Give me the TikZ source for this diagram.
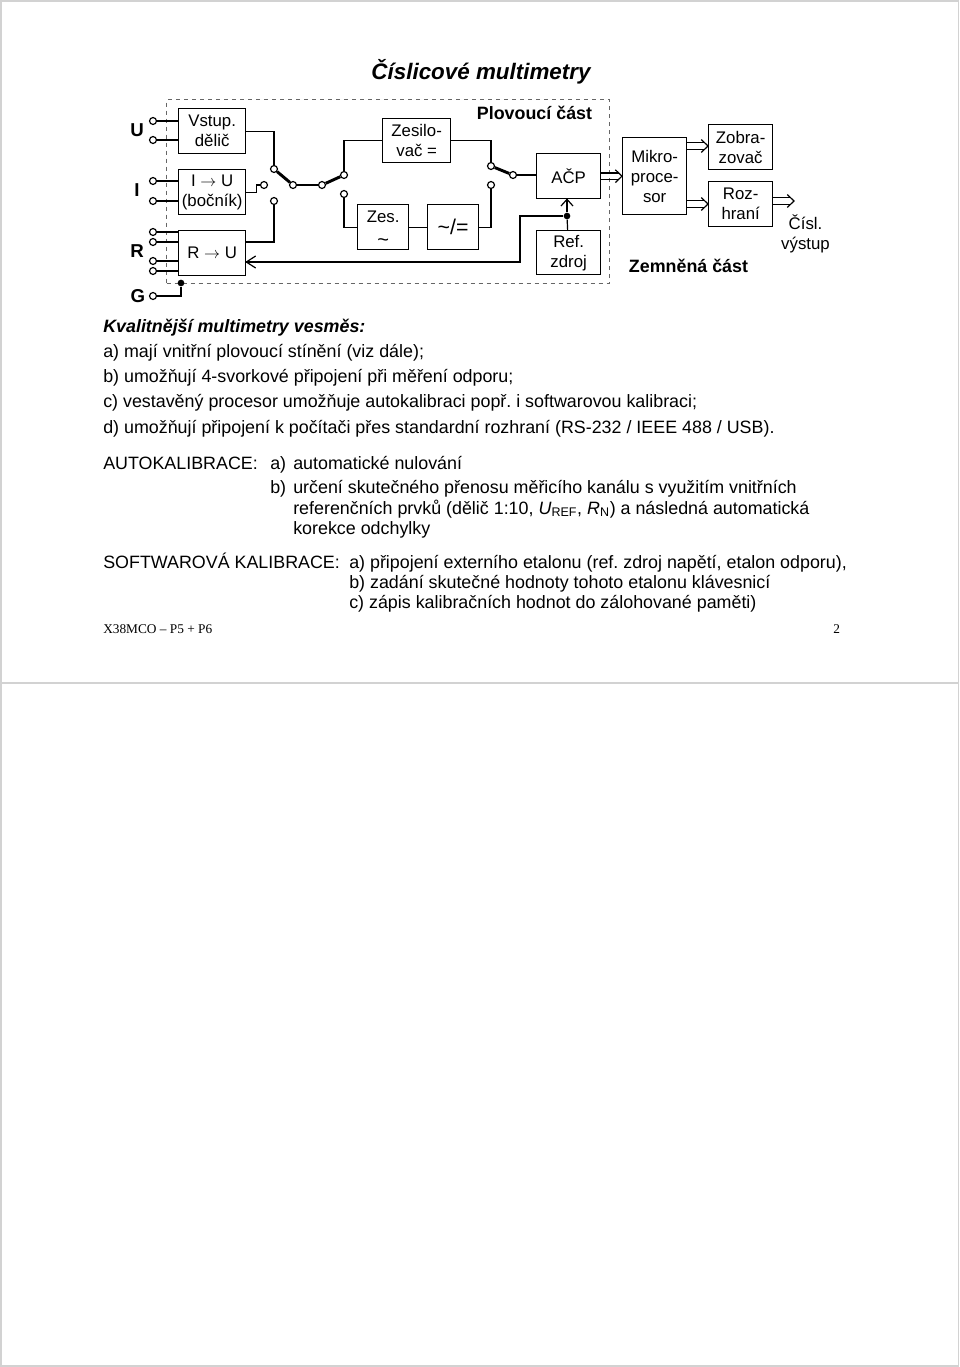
\documentclass[tikz,border=0pt]{standalone}
\usepackage{fontspec}
\setmainfont{Liberation Sans}
\newfontfamily\footfont{Liberation Serif}

\newcommand{\boxfont}{\fontsize{12.6}{15}\selectfont}
\newcommand{\bodyfont}{\fontsize{13.4}{15}\selectfont}
\newcommand{\busline}[2]{%
  \draw[wire] ([yshift=2.4pt]#1) -- ([shift={(-2.6pt,2.4pt)}]#2);
  \draw[wire] ([yshift=-2.4pt]#1) -- ([shift={(-2.6pt,-2.4pt)}]#2);
  \draw[wire] ([shift={(-5pt,4.8pt)}]#2) -- (#2) -- ([shift={(-5pt,-4.8pt)}]#2);}
\frenchspacing

\tikzset{
  block/.style={draw,line width=1pt,rectangle,inner sep=0pt,align=center,font=\boxfont,anchor=north west},
  term/.style={draw,line width=0.9pt,circle,fill=white,inner sep=0pt,minimum size=5.2pt},
  wire/.style={line width=0.9pt},
  arm/.style={line width=2.2pt},
  barb/.style={line width=0.9pt},
  dot/.style={circle,fill=black,inner sep=0pt,minimum size=5pt},
  txt/.style={anchor=base west,inner sep=0pt,font=\bodyfont},
  lbl/.style={inner sep=0pt,align=center,font=\boxfont},
  head/.style={inner sep=0pt,font=\fontsize{13.4}{15}\selectfont\bfseries},
  pin/.style={inner sep=0pt,font=\fontsize{14}{15}\selectfont\bfseries},
  foottxt/.style={anchor=base west,inner sep=0pt,font=\footfont\fontsize{10}{11}\selectfont}
}

\begin{document}
\begin{tikzpicture}[x=0.75pt,y=-0.75pt]
  \useasboundingbox (0,0) rectangle (960,1367);

  % page edges
  \coordinate (edgeA) at (1,1);
  \coordinate (edgeB) at (958.5,1366);
  \coordinate (edgeL) at (0,683);
  \coordinate (edgeR) at (958.5,683);
  \draw[gray!35,line width=0.9pt] (edgeA) rectangle (edgeB);
  \draw[gray!35,line width=0.9pt] (edgeL) -- (edgeR);

  \node (title) at (481,72) [font=\fontsize{16.8}{18}\selectfont\bfseries\itshape,inner sep=0pt] {Číslicové multimetry};

  % floating part
  \node (plov) [draw,gray!80!black,dashed,line width=0.8pt,inner sep=0pt,anchor=north west,
    minimum width=442.5pt*0.75,minimum height=184pt*0.75] at (166,99) {};

  % blocks
  \node (vstup) [block,minimum width=50.25pt,minimum height=33.75pt] at (178,108) {Vstup.\\dělič};
  \node (bocnik) [block,minimum width=50.25pt,minimum height=33.75pt] at (178,169) {I $\rightarrow$ U\\(bočník)};
  \node (rtou) [block,minimum width=50.25pt,minimum height=33.75pt] at (178,230) {R $\rightarrow$ U};
  \node (zesil) [block,minimum width=51pt,minimum height=33pt] at (382,118) {Zesilo-\\vač =};
  \node (zesac) [block,minimum width=38.25pt,minimum height=33.75pt] at (357,204) {Zes.\\\raisebox{-3pt}[0pt][0pt]{\fontsize{15}{15}\selectfont\textasciitilde}};
  \node (acdc) [block,minimum width=38.25pt,minimum height=33.75pt,font=\fontsize{16}{17}\selectfont] at (427,204) {\textasciitilde/=};
  \node (acp) [block,minimum width=48pt,minimum height=33.75pt] at (536,153) {AČP};
  \node (ref) [block,minimum width=48pt,minimum height=33pt] at (536,230) {Ref.\\zdroj};
  \node (mikro) [block,minimum width=48pt,minimum height=57.75pt] at (622,137) {Mikro-\\proce-\\sor};
  \node (zobr) [block,minimum width=48pt,minimum height=33.75pt] at (708,124) {Zobra-\\zovač};
  \node (rozh) [block,minimum width=48pt,minimum height=33.75pt] at (708,181) {Roz-\\hraní};

  % input terminals
  \node (tu1) [term] at (153,121) {};
  \node (tu2) [term] at (153,140) {};
  \node (ti1) [term] at (153,181) {};
  \node (ti2) [term] at (153,201) {};
  \node (tr1) [term] at (153,232) {};
  \node (tr2) [term] at (153,242) {};
  \node (tr3) [term] at (153,261) {};
  \node (tr4) [term] at (153,271) {};
  \node (tg) [term] at (153,296) {};
  \node (lu) [pin] at (137,130) {U};
  \node (li) [pin] at (137,190) {I};
  \node (lr) [pin] at (137,251) {R};
  \node (lg) [pin] at (138,296) {G};

  % switch contacts
  \node (sa1) [term] at (274,169) {};
  \node (sa2) [term] at (264,185) {};
  \node (sa3) [term] at (274,201) {};
  \node (sa4) [term] at (293,185) {};
  \node (sb1) [term] at (322,185) {};
  \node (sb2) [term] at (344,175) {};
  \node (sb3) [term] at (344,194) {};
  \node (sc1) [term] at (491,166) {};
  \node (sc2) [term] at (491,185) {};
  \node (sc3) [term] at (513,175) {};
  \node (gnd) [dot] at (181,283) {};
  \node (join) [dot] at (567,216) {};

  % connectors
  \foreach \t/\b in {tu1/vstup,tu2/vstup,ti1/bocnik,ti2/bocnik,tr1/rtou,tr2/rtou,tr3/rtou,tr4/rtou}
    \draw[wire] (\t) -- (\t -| \b.west);
  \draw[wire] (tg) -| (gnd);
  \draw[wire] (vstup.east) -| (sa1);
  \draw[wire] (bocnik.east) -- ++(10,0) |- (sa2);
  \draw[wire] (sa3) |- (rtou.east |- tr2);
  \draw[arm] (sa1) -- (sa4);
  \draw[wire] (sa4) -- (sb1);
  \draw[arm] (sb1) -- (sb2);
  \draw[wire] (sb2) |- (zesil.west);
  \draw[wire] (sb3) |- (zesac.west);
  \draw[wire] (zesac) -- (acdc);
  \draw[wire] (acdc.east) -| (sc2);
  \draw[wire] (zesil.east) -| (sc1);
  \draw[arm] (sc1) -- (sc3);
  \draw[wire] (sc3) -- (sc3 -| acp.west);
  \draw[wire] (ref) -- (join);

  % reference arrows
  \coordinate (acpin) at (join |- acp.south);
  \coordinate (rin) at (rtou.east |- 520,262);
  \coordinate (bend) at (520,262);
  \draw[wire] (join) -- (acpin);
  \draw[barb] ([shift={(-4.5pt,-5pt)}]acpin) -- (acpin) -- ([shift={(4.5pt,-5pt)}]acpin);
  \draw[wire] (join) -| (bend) -- (rin);
  \draw[barb] ([shift={(7pt,4.5pt)}]rin) -- (rin) -- ([shift={(7pt,-4.5pt)}]rin);

  % buses
  \coordinate (bus1a) at (acp.east);
  \coordinate (bus1b) at (acp.east -| mikro.west);
  \coordinate (bus2a) at (mikro.east |- 0,146);
  \coordinate (bus2b) at (zobr.west |- 0,146);
  \coordinate (bus3a) at (mikro.east |- 0,204);
  \coordinate (bus3b) at (rozh.west |- 0,204);
  \coordinate (out) at (794,201);
  \coordinate (bus4a) at (rozh.east |- out);
  \busline{bus1a}{bus1b}
  \busline{bus2a}{bus2b}
  \busline{bus3a}{bus3b}
  \busline{bus4a}{out}

  % captions
  \node (lplov) [head] at (534.5,113) {Plovoucí část};
  \node (lzem) [head] at (688.5,266) {Zemněná část};
  \node (lcisl) [lbl] at (805.5,233.5) {Čísl.\\výstup};

  % text lines
  \node (t1) [txt,font=\bodyfont\bfseries\itshape] at (103,332) {Kvalitnější multimetry vesměs:};
  \node (t2) [txt] at (103,357) {a) mají vnitřní plovoucí stínění (viz dále);};
  \node (t3) [txt] at (103,382) {b) umožňují 4-svorkové připojení při měření odporu;};
  \node (t4) [txt] at (103,407) {c) vestavěný procesor umožňuje autokalibraci popř. i softwarovou kalibraci;};
  \node (t5) [txt] at (103,433) {d) umožňují připojení k počítači přes standardní rozhraní (RS-232 / IEEE 488 / USB).};

  \node (auto) [txt] at (103,469) {AUTOKALIBRACE:};
  \node (autoa) [txt] at (270,469) {a)};
  \node (auto1) [txt] at (293,469) {automatické nulování};
  \node (autob) [txt] at (270,493) {b)};
  \node (auto2) [txt] at (293,493) {určení skutečného přenosu měřicího kanálu s využitím vnitřních};
  \node (auto3) [txt] at (293,514) {referenčních prvků (dělič 1:10, \textit{U}\textsubscript{REF}, \textit{R}\textsubscript{N}) a následná automatická};
  \node (auto4) [txt] at (293,534) {korekce odchylky};

  \node (soft) [txt] at (103,568) {SOFTWAROVÁ KALIBRACE:};
  \node (soft1) [txt] at (349,568) {a) připojení externího etalonu (ref. zdroj napětí, etalon odporu),};
  \node (soft2) [txt] at (349,588) {b) zadání skutečné hodnoty tohoto etalonu klávesnicí};
  \node (soft3) [txt] at (349,608) {c) zápis kalibračních hodnot do zálohované paměti)};

  \node (foot) [foottxt] at (103,633) {X38MCO – P5 + P6};
  \node (page) [foottxt] at (833,633) {2};
\end{tikzpicture}
\end{document}
